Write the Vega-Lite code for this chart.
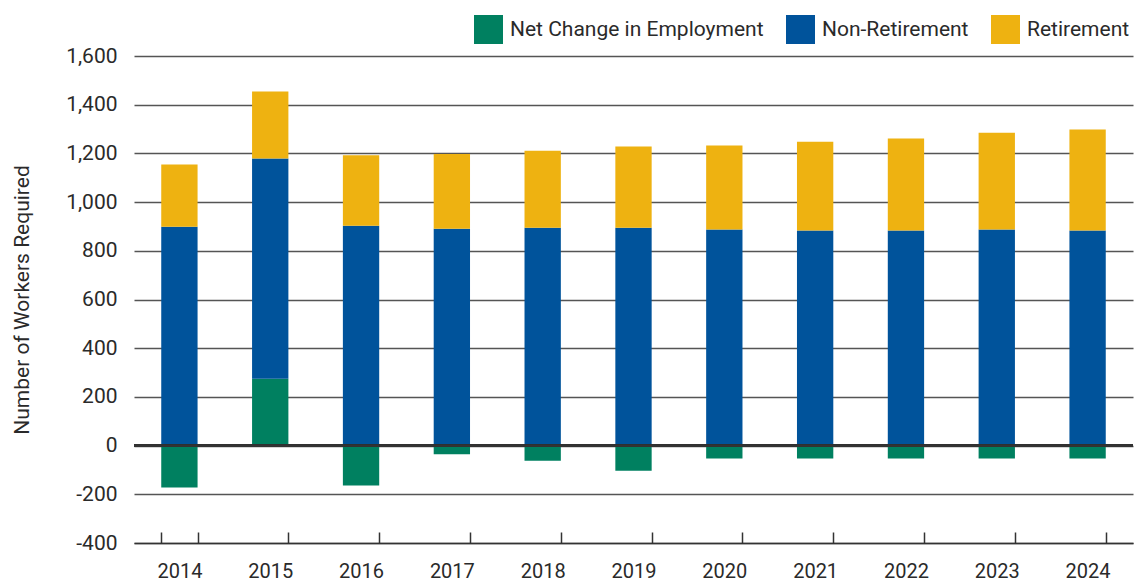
{
  "$schema": "https://vega.github.io/schema/vega-lite/v6.json",
  "width": 999,
  "height": 487,
  "autosize": {"type": "none"},
  "padding": {"left": 134, "top": 56, "right": 3, "bottom": 39},
  "config": {
    "font": "Roboto, sans-serif",
    "view": {"stroke": null}
  },
  "data": {
    "values": [
      {"year": "2014", "category": "Net Change in Employment", "value": -172},
      {"year": "2014", "category": "Non-Retirement", "value": 899},
      {"year": "2014", "category": "Retirement", "value": 255},
      {"year": "2015", "category": "Net Change in Employment", "value": 275},
      {"year": "2015", "category": "Non-Retirement", "value": 904},
      {"year": "2015", "category": "Retirement", "value": 275},
      {"year": "2016", "category": "Net Change in Employment", "value": -164},
      {"year": "2016", "category": "Non-Retirement", "value": 903},
      {"year": "2016", "category": "Retirement", "value": 289},
      {"year": "2017", "category": "Net Change in Employment", "value": -36},
      {"year": "2017", "category": "Non-Retirement", "value": 891},
      {"year": "2017", "category": "Retirement", "value": 307},
      {"year": "2018", "category": "Net Change in Employment", "value": -62},
      {"year": "2018", "category": "Non-Retirement", "value": 895},
      {"year": "2018", "category": "Retirement", "value": 316},
      {"year": "2019", "category": "Net Change in Employment", "value": -103},
      {"year": "2019", "category": "Non-Retirement", "value": 895},
      {"year": "2019", "category": "Retirement", "value": 333},
      {"year": "2020", "category": "Net Change in Employment", "value": -53},
      {"year": "2020", "category": "Non-Retirement", "value": 887},
      {"year": "2020", "category": "Retirement", "value": 345},
      {"year": "2021", "category": "Net Change in Employment", "value": -53},
      {"year": "2021", "category": "Non-Retirement", "value": 883},
      {"year": "2021", "category": "Retirement", "value": 365},
      {"year": "2022", "category": "Net Change in Employment", "value": -53},
      {"year": "2022", "category": "Non-Retirement", "value": 883},
      {"year": "2022", "category": "Retirement", "value": 378},
      {"year": "2023", "category": "Net Change in Employment", "value": -53},
      {"year": "2023", "category": "Non-Retirement", "value": 887},
      {"year": "2023", "category": "Retirement", "value": 398},
      {"year": "2024", "category": "Net Change in Employment", "value": -53},
      {"year": "2024", "category": "Non-Retirement", "value": 883},
      {"year": "2024", "category": "Retirement", "value": 415}
    ]
  },
  "layer": [
    {
      "mark": {"type": "bar"},
      "encoding": {
        "x": {
          "field": "year",
          "type": "ordinal",
          "scale": {"paddingInner": 0.6, "paddingOuter": 0.3},
          "axis": {
            "title": null,
            "labelAngle": 0,
            "labelFontSize": 20,
            "labelColor": "#2a2a2a",
            "labelBaseline": "top",
            "labelPadding": 29,
            "tickBand": "extent",
            "tickSize": -11,
            "tickColor": "#333333",
            "tickWidth": 1.5,
            "domainColor": "#333333",
            "domainWidth": 1.5,
            "grid": false
          }
        },
        "y": {
          "field": "value",
          "type": "quantitative",
          "stack": "zero",
          "scale": {"domain": [-400, 1600], "nice": false},
          "axis": {
            "title": "Number of Workers Required",
            "titleFontSize": 21,
            "titleFontWeight": "normal",
            "titleColor": "#2a2a2a",
            "titleX": -112,
            "titleBaseline": "middle",
            "values": [-400, -200, 0, 200, 400, 600, 800, 1000, 1200, 1400, 1600],
            "format": ",d",
            "labelExpr": "replace(datum.label, '\u2212', '-')",
            "labelFontSize": 21,
            "labelColor": "#2a2a2a",
            "labelPadding": 17,
            "ticks": false,
            "domain": false,
            "grid": true,
            "gridColor": "#555555",
            "gridWidth": 1.6
          }
        },
        "order": {"field": "category", "sort": "ascending"},
        "color": {
          "field": "category",
          "type": "nominal",
          "scale": {
            "domain": ["Net Change in Employment", "Non-Retirement", "Retirement"],
            "range": ["#008060", "#00539B", "#EEB211"]
          },
          "legend": {
            "title": null,
            "orient": "none",
            "direction": "horizontal",
            "legendX": 340,
            "legendY": -41,
            "padding": 0,
            "symbolType": "square",
            "symbolSize": 840,
            "symbolStrokeWidth": 0,
            "symbolOpacity": 1,
            "labelFontSize": 21,
            "labelColor": "#2a2a2a",
            "labelOffset": 7,
            "columnPadding": 22,
            "labelLimit": 400
          }
        }
      }
    },
    {
      "mark": {"type": "rule", "color": "#333333", "strokeWidth": 1.8},
      "encoding": {"y": {"datum": 0}}
    }
  ]
}
